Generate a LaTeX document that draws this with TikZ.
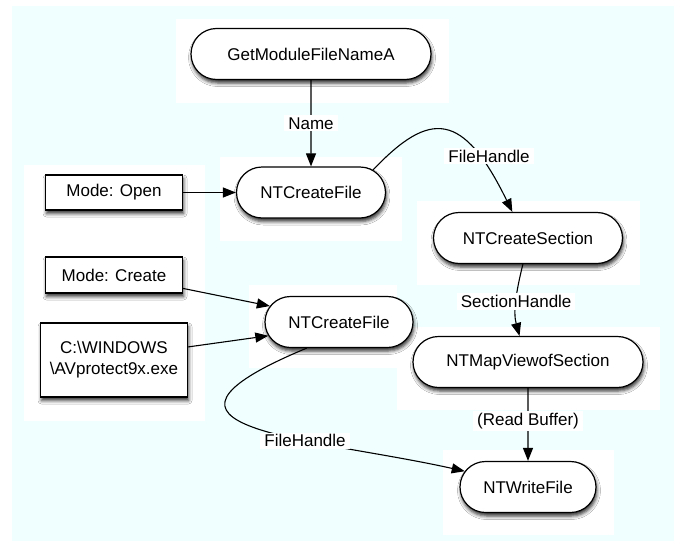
\documentclass[tikz,border=0pt]{standalone}
\usepackage{fontspec}
\setmainfont{Liberation Sans}
\usetikzlibrary{arrows.meta}
\usetikzlibrary{calc}
\usetikzlibrary{shapes.misc}
\usetikzlibrary{shadows.blur}
\definecolor{paper}{RGB}{240,255,255}
\tikzset{
    soft shade/.style={
        blur shadow={shadow xshift=1pt, shadow yshift=-3.5pt, shadow blur radius=3.5pt, shadow opacity=80}},
    call/.style={rounded rectangle, draw, fill=white, line width=1.2pt,
        minimum height=51pt, inner xsep=0pt, soft shade},
    arg/.style={rectangle, draw, fill=white, line width=1.2pt, align=center, soft shade},
    lbl/.style={fill=white, inner xsep=4pt, inner ysep=2pt},
    flow/.style={line width=1.1pt, -{Triangle[length=13pt, width=10pt]}},
}

\begin{document}
\begin{tikzpicture}[x=1pt, y=-1pt, font=\fontsize{17}{21}\selectfont]

    \useasboundingbox (0,0) rectangle (677,541);
    \fill[paper] (12,6) rectangle (674,541);

    \foreach \xa/\ya/\xb/\yb in {176/19/449/103, 24/165/205/421, 220/157/402/241,
        417/201/640/285, 249/285/397/368, 397/327/660/410, 443/450/614/535}{
        \fill[white] (\xa,\ya) rectangle (\xb,\yb);
    }

    \node[call, minimum width=240pt] (getmod) at (311,54) {GetModuleFileNameA};
    \node[call, minimum width=149pt] (cfa) at (311,192.5) {NTCreateFile};
    \node[call, minimum width=148pt] (cfb) at (339,322) {NTCreateFile};
    \node[call, minimum width=189pt] (csec) at (528,238) {NTCreateSection};
    \node[call, minimum width=230pt] (cmap) at (528,362) {NTMapViewofSection};
    \node[call, minimum width=136pt] (wfile) at (528,487) {NTWriteFile};

    \node[arg, minimum width=137pt, minimum height=35pt] (mopen) at (114,192.5) {Mode: Open};
    \node[arg, minimum width=137pt, minimum height=36pt] (mcreate) at (114,275) {Mode: Create};
    \node[arg, minimum width=147pt, minimum height=74pt] (winpath) at (114,360)
        {C:\textbackslash WINDOWS\\\textbackslash AVprotect9x.exe};

    \draw[flow] (getmod) -- node[lbl] {Name} (cfa);
    \draw[flow] (mopen) -- (cfa);
    \draw[flow] (cfa.20) .. controls (430,110) and (463,111)
        .. node[lbl, pos=0.76, xshift=10pt] {FileHandle} (csec.121);
    \draw[flow] (csec.-101) .. controls (516,292) and (513,312)
        .. node[lbl] {SectionHandle} (cmap.108);
    \draw[flow] (cmap) -- node[lbl, pos=0.45] {(Read Buffer)} (wfile);

    \draw[flow] (mcreate.-11.5) -- (cfb.167);
    \draw[flow] (winpath.10) -- (cfb.191);
    \draw[flow] (cfb.-141) .. controls (110,430) and (311,437)
        .. node[lbl, pos=0.65] {FileHandle} (wfile.166);

\end{tikzpicture}
\end{document}
